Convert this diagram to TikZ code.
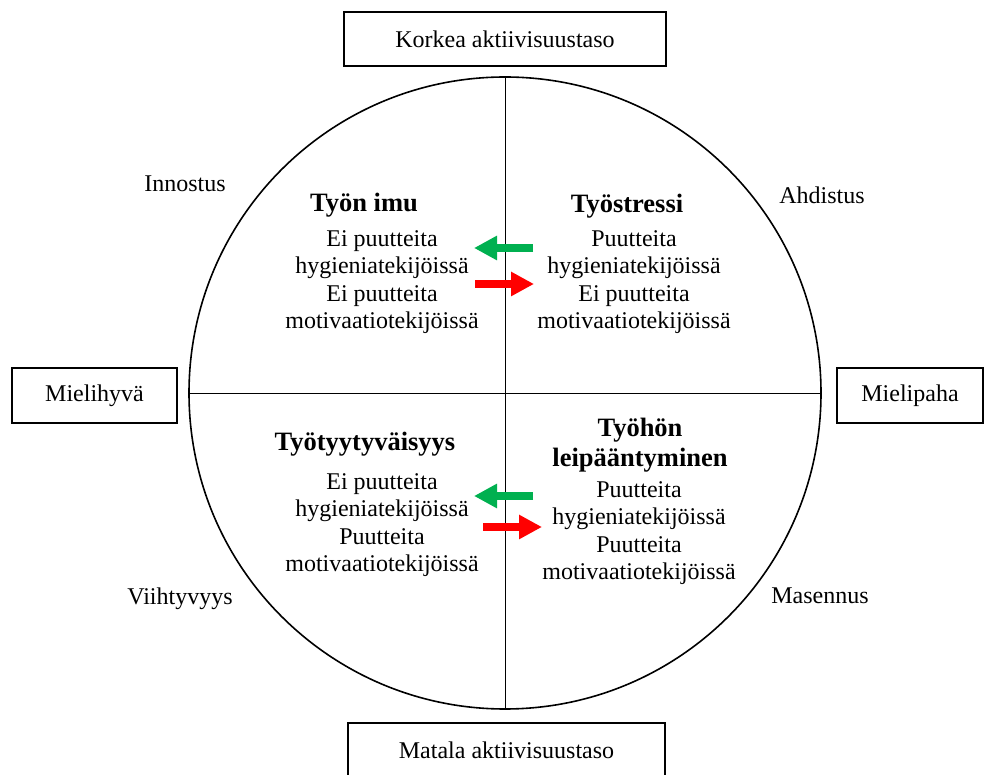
\documentclass[tikz,border=0pt]{standalone}
\usepackage{fontspec}
\setmainfont{Liberation Serif}
\usepackage{tikz}
\usetikzlibrary{arrows.meta,positioning}
\usepackage{xcolor}
\definecolor{arrgreen}{HTML}{00B050}
\definecolor{arrred}{HTML}{FF0000}

\begin{document}
\begin{tikzpicture}[
  x=1pt, y=1pt,
  axisbox/.style={rectangle, draw, line width=1.2pt, inner sep=0pt, font=\fontsize{24}{27.5}\selectfont},
  quadtitle/.style={align=center, inner sep=0pt, font=\fontsize{26.5}{30.5}\selectfont\bfseries},
  quadtext/.style={align=center, inner sep=0pt, font=\fontsize{24}{27.5}\selectfont},
  mood/.style={inner sep=0pt, font=\fontsize{24}{27.5}\selectfont},
  flow/.style={line width=7.5pt, -{Triangle[length=23pt,width=23pt]}}
]
  \useasboundingbox (0,0) rectangle (985,774);

  % circle and axes
  \node[circle, draw, line width=1.6pt, minimum size=632pt, inner sep=0pt] (ring) at (505,381) {};
  \draw[line width=0.9pt] (ring.north) -- (ring.south);
  \draw[line width=0.9pt] (ring.west) -- (ring.east);

  % axis boxes
  \node[axisbox, minimum width=322pt, minimum height=54pt] (high) at (505,735) {Korkea aktiivisuustaso};
  \node[axisbox, minimum width=317pt, minimum height=54pt] (low) at (506.5,24) {Matala aktiivisuustaso};
  \node[axisbox, minimum width=165pt, minimum height=55pt] (pleasure) at (94.5,378.5) {Mielihyvä};
  \node[axisbox, minimum width=146pt, minimum height=55pt] (displeasure) at (910,378.5) {Mielipaha};

  % moods
  \node[mood] (innostus) at (185,590) {Innostus};
  \node[mood] (ahdistus) at (822,579) {Ahdistus};
  \node[mood] (viihtyvyys) at (180,175) {Viihtyvyys};
  \node[mood] (masennus) at (820,178) {Masennus};

  % quadrants
  \node[quadtitle] (imu) at (364,569) {Työn imu};
  \node[quadtext] (imutxt) at (382,492) {Ei puutteita\\hygieniatekijöissä\\Ei puutteita\\motivaatiotekijöissä};
  \node[quadtitle] (stressi) at (627,568) {Työstressi};
  \node[quadtext] (stressitxt) at (634,492) {Puutteita\\hygieniatekijöissä\\Ei puutteita\\motivaatiotekijöissä};
  \node[quadtitle] (tyyt) at (365,330) {Työtyytyväisyys};
  \node[quadtext] (tyyttxt) at (382,249) {Ei puutteita\\hygieniatekijöissä\\Puutteita\\motivaatiotekijöissä};
  \node[quadtitle] (leip) at (640,329) {Työhön\\leipääntyminen};
  \node[quadtext] (leiptxt) at (639,241) {Puutteita\\hygieniatekijöissä\\Puutteita\\motivaatiotekijöissä};

  % arrows
  \coordinate (ga) at (533,526); \coordinate (gb) at (474,526);
  \coordinate (ra) at (475,490); \coordinate (rb) at (534,490);
  \coordinate (gc) at (533,278); \coordinate (gd) at (474,278);
  \coordinate (rc) at (483,247); \coordinate (rd) at (542,247);
  \draw[flow, arrgreen] (ga) -- (gb);
  \draw[flow, arrred] (ra) -- (rb);
  \draw[flow, arrgreen] (gc) -- (gd);
  \draw[flow, arrred] (rc) -- (rd);
\end{tikzpicture}
\end{document}
